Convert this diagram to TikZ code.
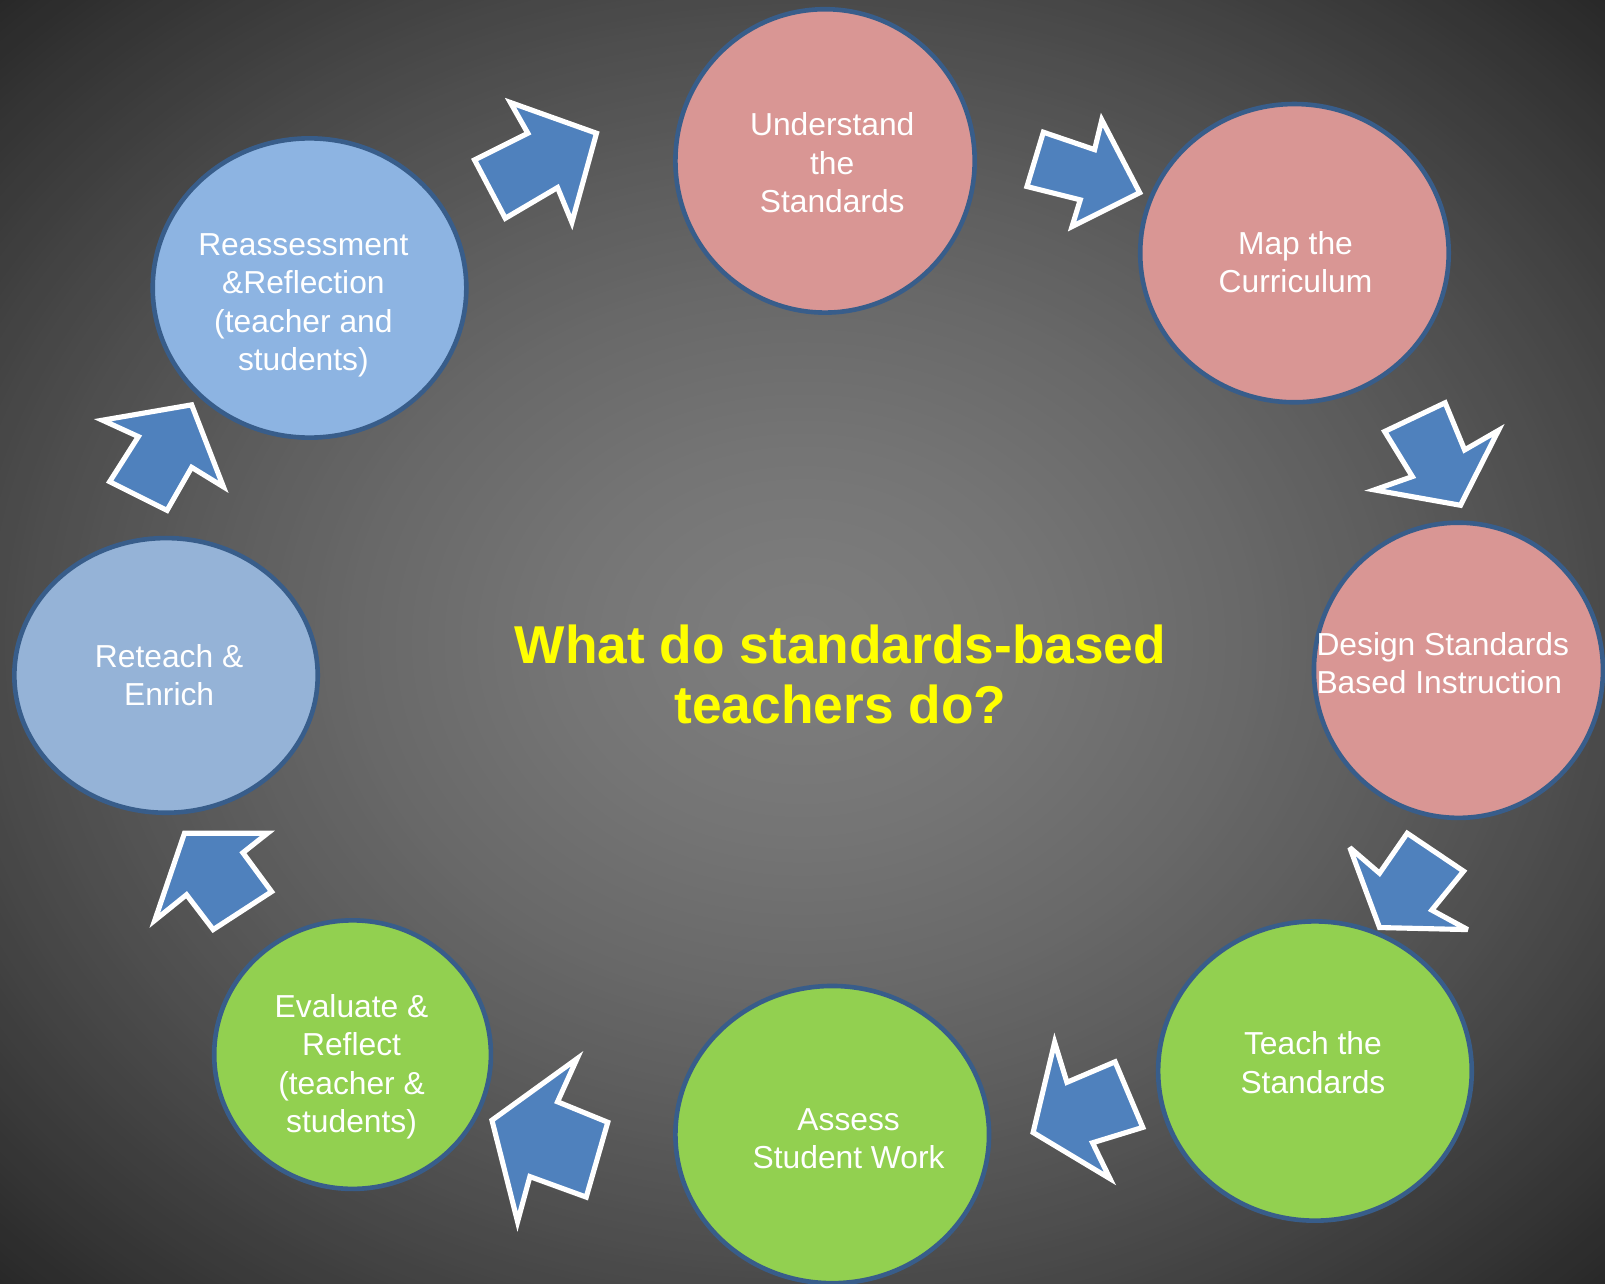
\documentclass[tikz,border=0pt]{standalone}
\usepackage{fontspec}
\setmainfont{Liberation Sans}
\usetikzlibrary{shapes.geometric}
\definecolor{bgin}{HTML}{7D7D7D}
\definecolor{bgout}{HTML}{282828}
\definecolor{pinkc}{HTML}{D99694}
\definecolor{greenc}{HTML}{92D050}
\definecolor{bluec}{HTML}{8DB4E2}
\definecolor{grayblue}{HTML}{95B3D7}
\definecolor{rimc}{HTML}{385D8A}
\definecolor{arrowblue}{HTML}{4F81BD}
\definecolor{titleyellow}{HTML}{FFFF00}
\tikzset{
  stage/.style={ellipse, draw=rimc, line width=4.5, inner sep=0pt},
  stagetext/.style={text=white, align=center, font=\fontsize{31}{37.5}\selectfont},
  blockarrow/.style={fill=arrowblue, draw=white, line width=5, line join=miter, miter limit=4},
}
\begin{document}
\begin{tikzpicture}[x=1pt, y=-1pt]
\useasboundingbox (0,0) rectangle (1566,1252);
\clip (0,0) rectangle (1566,1252);
\fill[bgout] (0,0) rectangle (1566,1252);
\foreach \i in {0,...,139}{
  \pgfmathsetmacro\bgt{1-\i/140}
  \pgfmathsetmacro\bgp{100*(1-\bgt^1.5)}
  \fill[bgin!\bgp!bgout] (783,626) ellipse [x radius=1112*\bgt, y radius=889*\bgt];
}

% stages
\node[stage, fill=pinkc, minimum width=292, minimum height=296] (s1) at (805,157) {};
\node[stage, fill=pinkc, minimum width=301, minimum height=291] (s2) at (1263,247) {};
\node[stage, fill=pinkc, minimum width=282, minimum height=288] (s3) at (1423,654) {};
\node[stage, fill=greenc, minimum width=306, minimum height=292] (s4) at (1283,1045) {};
\node[stage, fill=greenc, minimum width=306, minimum height=290] (s5) at (812,1107) {};
\node[stage, fill=greenc, minimum width=270, minimum height=262] (s6) at (344,1029) {};
\node[stage, fill=grayblue, minimum width=296, minimum height=268] (s7) at (162,659) {};
\node[stage, fill=bluec, minimum width=306, minimum height=292] (s8) at (302,281) {};

% texts
\node[stagetext] (t1) at (812,159) {Understand\\the\\Standards};
\node[stagetext] (t2) at (1264,256) {Map the\\Curriculum};
\node[stagetext, align=left, anchor=west] (t3) at (1281,647) {Design Standards\\Based Instruction};
\node[stagetext] (t4) at (1281,1037) {Teach the\\Standards};
\node[stagetext] (t5) at (828,1111) {Assess\\Student Work};
\node[stagetext] (t6) at (343,1041) {Evaluate \&\\Reflect\\(teacher \&\\students)};
\node[stagetext] (t7) at (165,659) {Reteach \&\\Enrich};
\node[stagetext] (t8) at (296,298) {Reassessment\\\&Reflection\\(teacher and\\students)};

\node[text=titleyellow, align=center, font=\fontsize{52}{59}\selectfont\bfseries] (title) at (820,658) {What do standards-based\\teachers do?};

% block arrows
\draw[blockarrow] (463,156) -- (515,130) -- (498,100) -- (582,130) -- (558,217) -- (544,183) -- (493,213) -- cycle;
\draw[blockarrow] (1018,129) -- (1068,146) -- (1075,117) -- (1112,188) -- (1046,221) -- (1054,195) -- (1002,182) -- cycle;
\draw[blockarrow] (1410,393) -- (1429,439) -- (1462,420) -- (1425,493) -- (1341,478) -- (1378,465) -- (1351,421) -- cycle;
\draw[blockarrow] (1373,813) -- (1428,850) -- (1397,888) -- (1432,907) -- (1346,905) -- (1317,827) -- (1346,852) -- cycle;
\draw[blockarrow] (1088,1036) -- (1115,1100) -- (1066,1115) -- (1083,1150) -- (1008,1105) -- (1029,1017) -- (1041,1056) -- cycle;
\draw[blockarrow] (593,1095) -- (572,1168) -- (517,1148) -- (505,1192) -- (480,1093) -- (563,1033) -- (544,1075) -- cycle;
\draw[blockarrow] (265,870) -- (208,907) -- (182,873) -- (151,898) -- (180,813) -- (261,813) -- (237,832) -- cycle;
\draw[blockarrow] (163,498) -- (107,470) -- (135,426) -- (100,410) -- (187,395) -- (218,475) -- (187,456) -- cycle;
\end{tikzpicture}
\end{document}
